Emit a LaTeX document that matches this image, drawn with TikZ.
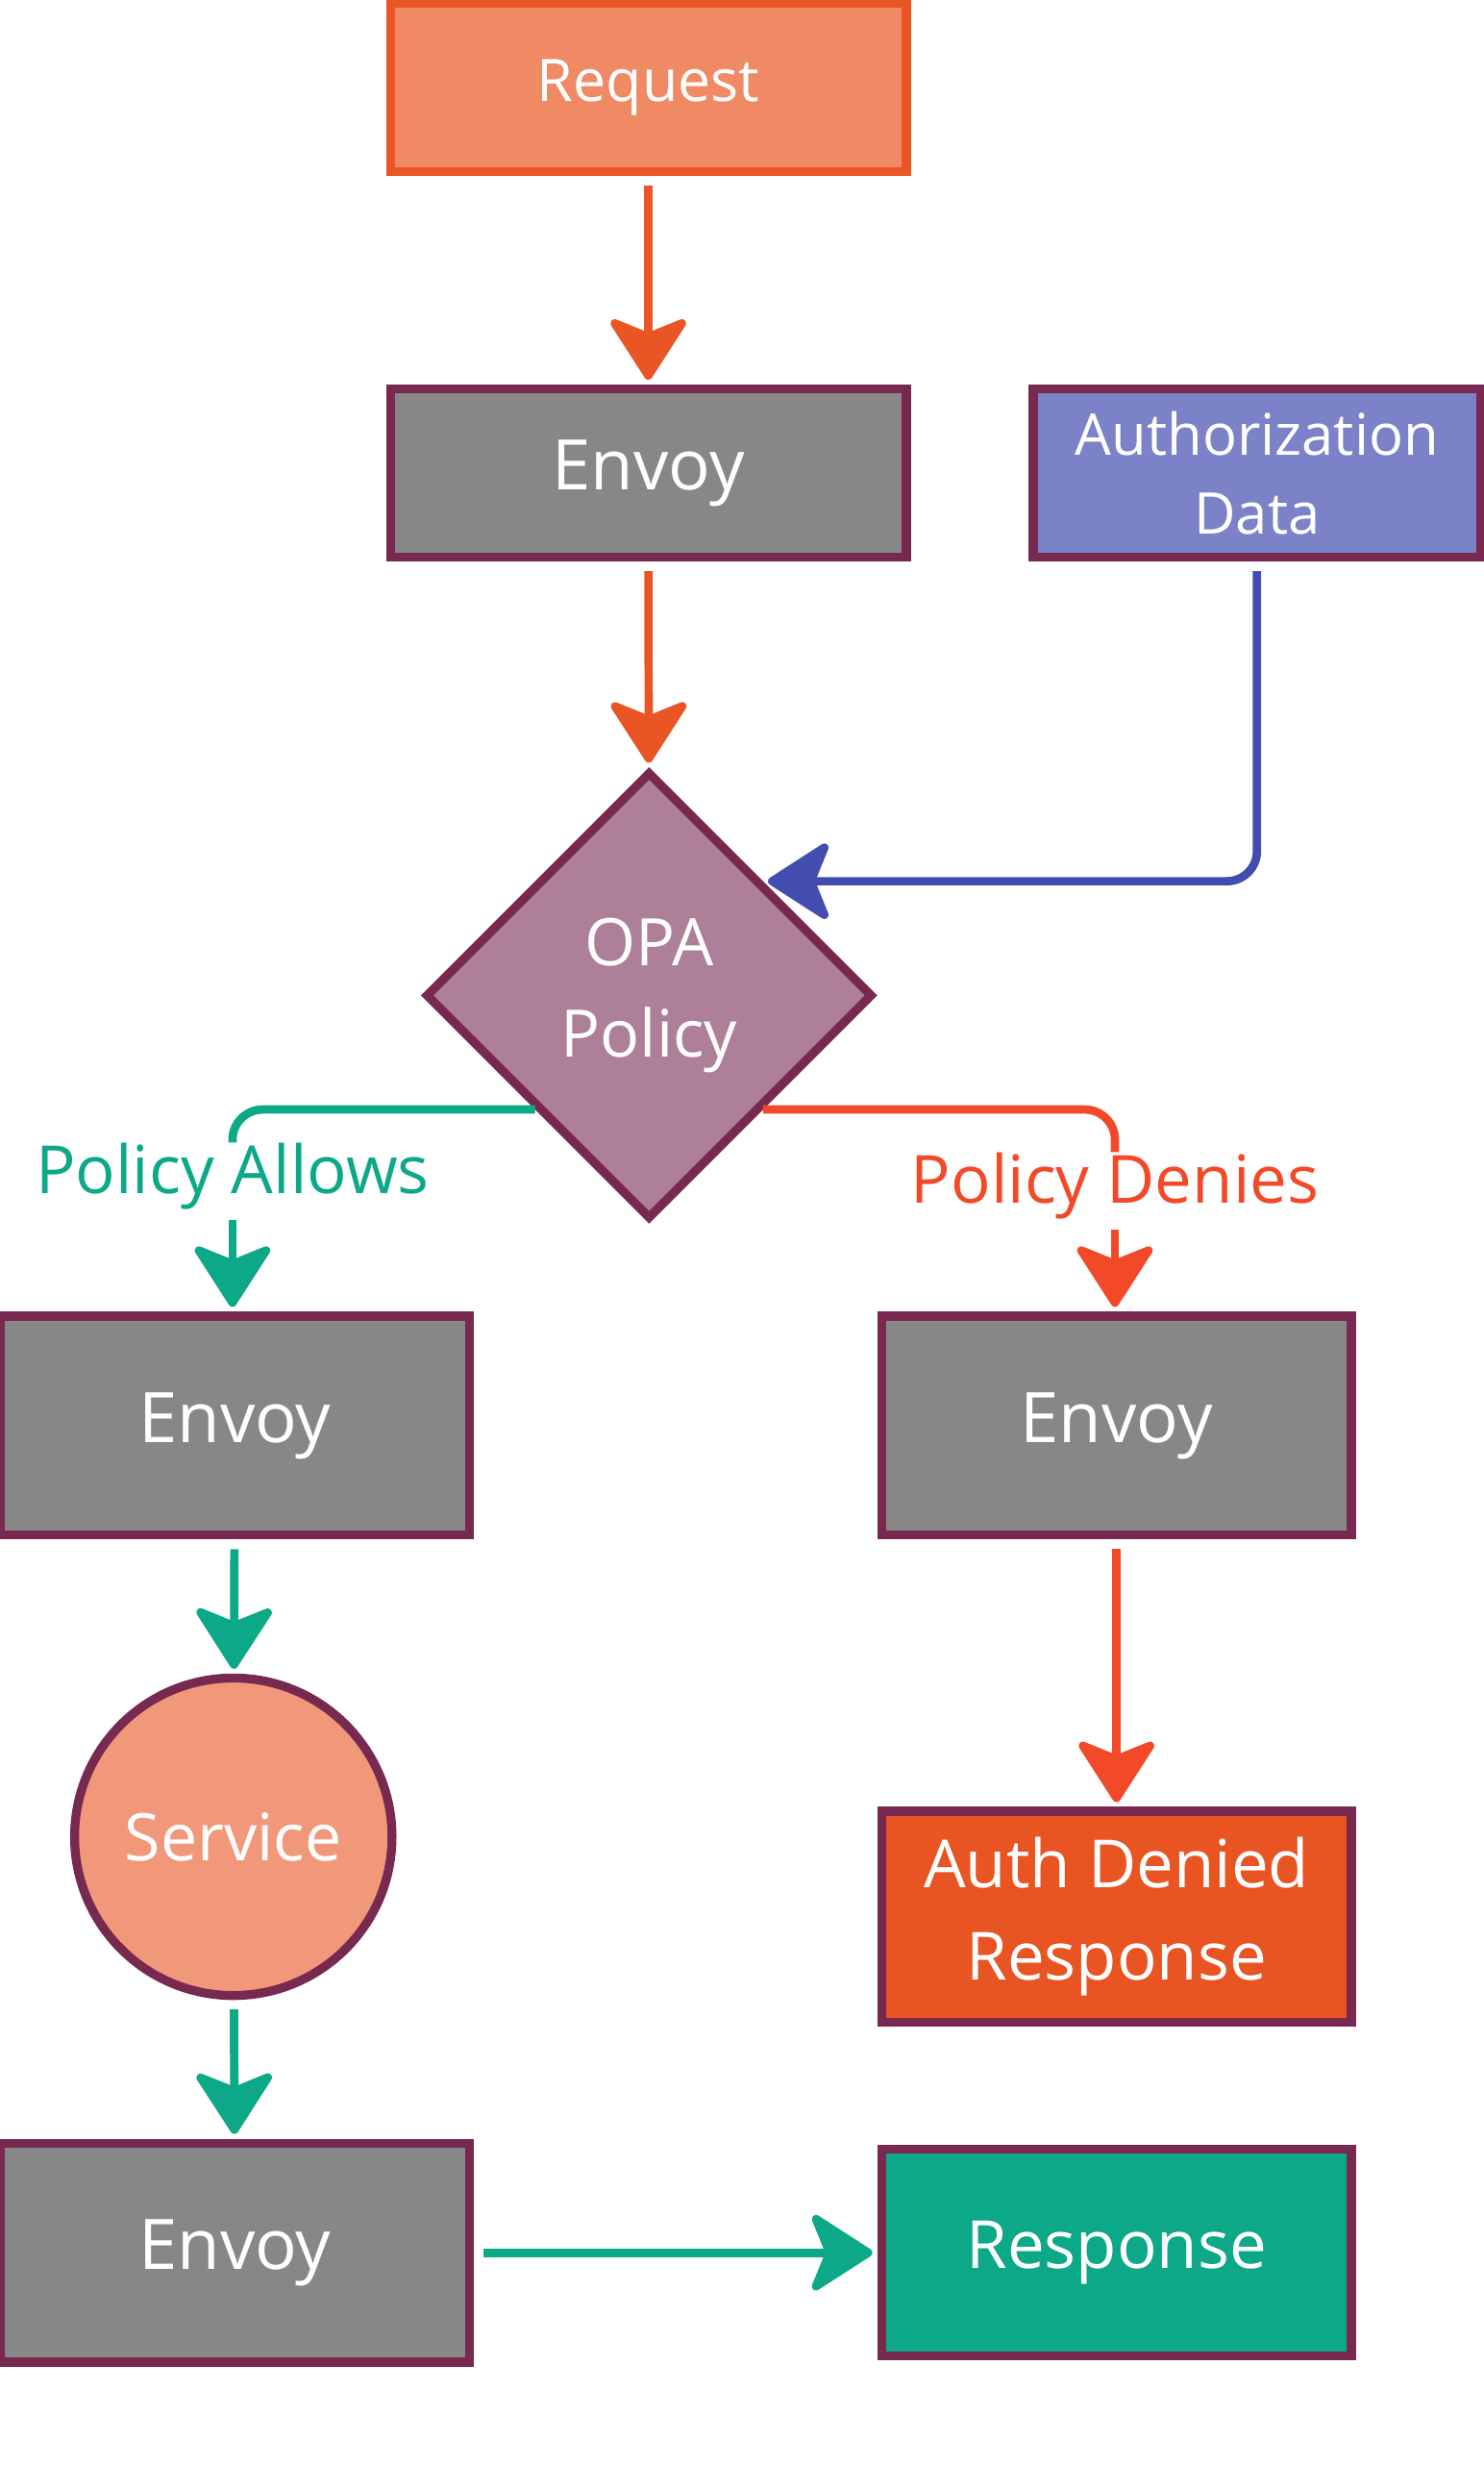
\documentclass[tikz,border=0pt]{standalone}
\usepackage{fontspec}
\setmainfont{Open Sans}
\usepackage{tikz}
\usetikzlibrary{shapes.geometric, arrows.meta}

\definecolor{edgeplum}{HTML}{78294F}
\definecolor{reqfill}{HTML}{F08A64}
\definecolor{reqedge}{HTML}{E95525}
\definecolor{envgray}{HTML}{878787}
\definecolor{authfill}{HTML}{7B82C8}
\definecolor{authblue}{HTML}{434DAF}
\definecolor{opafill}{HTML}{AE7F99}
\definecolor{okgreen}{HTML}{0DA888}
\definecolor{nored}{HTML}{F24A29}
\definecolor{svcfill}{HTML}{F2987A}
\definecolor{deniedfill}{HTML}{E85422}

\begin{document}
\begin{tikzpicture}[
    every node/.style={inner sep=0pt,align=center},
    box/.style={rectangle,draw=edgeplum,line width=3.2pt,text=white,
      minimum width=5.92cm,minimum height=2.76cm,font=\fontsize{23.8}{33}\selectfont},
    flow/.style={line width=3pt,shorten <=0.12cm,shorten >=0.06cm,
      -{Stealth[length=0.86cm,width=1.1cm,inset=0.22cm,round]}},
    elbow/.style={line width=3pt,rounded corners=0.38cm}]

    \useasboundingbox (0,0) rectangle (18.7,-31.37);

    %==================== Top: request into OPA ====================
    \node[box,draw=reqedge,fill=reqfill,minimum width=6.5cm,minimum height=2.12cm,
      font=\fontsize{21}{28}\selectfont] (req) at (8.17,-1.10) {Request};
    \node[box,fill=envgray,minimum width=6.5cm,minimum height=2.12cm,
      font=\fontsize{25}{30}\selectfont] (env1) at (8.17,-5.96) {Envoy};
    \node[box,fill=authfill,minimum width=5.64cm,minimum height=2.12cm,
      font=\fontsize{20.6}{28.5}\selectfont] (auth) at (15.84,-5.96) {Authorization\\Data};

    % Decision
    \node[diamond,aspect=1,draw=edgeplum,line width=3.2pt,fill=opafill,text=white,
      minimum width=5.64cm,minimum height=5.64cm,
      font=\fontsize{23.5}{33}\selectfont] (opa) at (8.18,-12.54) {OPA\\Policy};

    \foreach \a/\b in {req/env1,env1/opa} {
      \draw[flow,reqedge] (\a) -- (\b);
    }
    \draw[flow,elbow,authblue] (auth.south) |- (opa.north east);

    %==================== Left: policy allows ====================
    \node[text=okgreen,font=\fontsize{23.8}{28}\selectfont] (allow) at (2.93,-14.82) {Policy Allows};
    \node[box,fill=envgray,font=\fontsize{25}{30}\selectfont] (env2) at (2.96,-17.96) {Envoy};
    \node[circle,draw=edgeplum,line width=3.2pt,fill=svcfill,text=white,minimum size=4.0cm,
      font=\fontsize{23.5}{28}\selectfont] (svc) at (2.94,-23.14) {Service};
    \node[box,fill=envgray,font=\fontsize{25}{30}\selectfont] (env4) at (2.96,-28.38) {Envoy};

    \draw[elbow,okgreen] (opa.south west) -| (allow.north);
    \draw[flow,okgreen] (allow.south) -- (allow.south |- env2.north);
    \foreach \a/\b in {env2/svc,svc/env4} {
      \draw[flow,okgreen] (\a) -- (\b);
    }

    %==================== Right: policy denies ====================
    \node[text=nored,font=\fontsize{23.8}{28}\selectfont] (deny) at (14.05,-14.94) {Policy Denies};
    \node[box,fill=envgray,font=\fontsize{25}{30}\selectfont] (env3) at (14.07,-17.96) {Envoy};
    \node[box,fill=deniedfill,minimum height=2.66cm] (denied) at (14.07,-24.15) {Auth Denied\\Response};
    \node[box,fill=okgreen,minimum height=2.6cm] (resp) at (14.07,-28.38) {Response};

    \draw[elbow,nored] (opa.south east) -| (deny.north);
    \draw[flow,nored] (deny.south) -- (deny.south |- env3.north);
    \draw[flow,nored] (env3) -- (denied);
    \draw[flow,okgreen] (env4) -- (resp);

  \end{tikzpicture}
\end{document}
